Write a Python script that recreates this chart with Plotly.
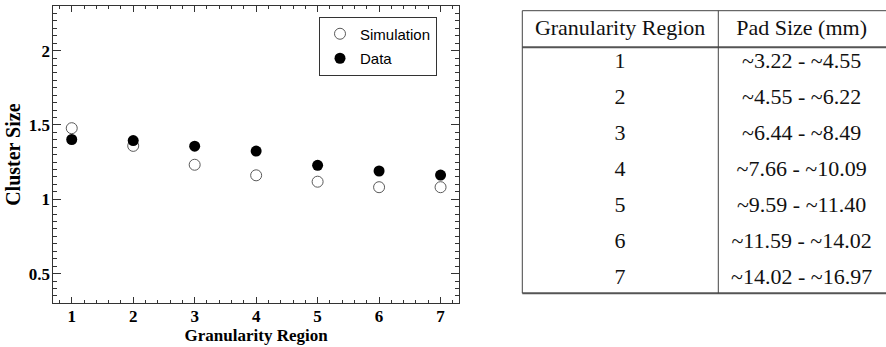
import plotly.graph_objects as go

# Cluster size per granularity region
regions = [1, 2, 3, 4, 5, 6, 7]
sim_cluster = [1.478, 1.359, 1.232, 1.161, 1.118, 1.081, 1.081]
data_cluster = [1.402, 1.395, 1.357, 1.324, 1.228, 1.190, 1.163]

# Pad size table
table_header = ["Granularity Region", "Pad Size (mm)"]
table_regions = ["1", "2", "3", "4", "5", "6", "7"]
table_pads = ["~3.22 - ~4.55", "~4.55 - ~6.22", "~6.44 - ~8.49", "~7.66 - ~10.09",
              "~9.59 - ~11.40", "~11.59 - ~14.02", "~14.02 - ~16.97"]

W, H = 886, 347
serif = "Liberation Serif"
sans = "Liberation Sans"
frame = "#333333"

def px_x(p):
    return p / W

def px_y(p):
    return 1 - p / H

fig = go.Figure()

fig.add_trace(go.Scatter(
    x=regions, y=sim_cluster, mode="markers", name="Simulation",
    legendgroup="sim",
    marker=dict(symbol="circle-open", size=11, color="#5a5a5a", line=dict(width=1)),
))
fig.add_trace(go.Scatter(
    x=regions, y=data_cluster, mode="markers", name="Data",
    legendgroup="data",
    marker=dict(symbol="circle", size=11, color="black"),
))

# Table of pad sizes
tx0, tx1 = 522.3, 886.0
rule_top, rule_hdr, rule_bot = 10.7, 47.3, 293.3
hdr_h = 32.6
row_h = 36.1
col_split = 718.3
table_bottom = rule_top + hdr_h + row_h * len(table_regions) + 2

fig.add_trace(go.Table(
    domain=dict(x=[px_x(tx0), 1.0], y=[px_y(table_bottom), px_y(rule_top)]),
    columnwidth=[col_split - tx0, tx1 - col_split],
    header=dict(values=table_header, height=hdr_h, align="center",
                fill_color="white", line=dict(color="white", width=0),
                font=dict(family=serif, size=22, color="#111111")),
    cells=dict(values=[table_regions, table_pads], height=row_h, align="center",
               fill_color="white", line=dict(color="white", width=0),
               font=dict(family=serif, size=22, color="#111111")),
))

# Table rules: top, under header, bottom, left edge and column divider
line_style = dict(color="#444444", width=1)
shapes = [
    dict(type="line", xref="paper", yref="paper", x0=px_x(tx0), x1=1.0,
         y0=px_y(rule_top), y1=px_y(rule_top), line=line_style),
    dict(type="line", xref="paper", yref="paper", x0=px_x(tx0), x1=1.0,
         y0=px_y(rule_hdr), y1=px_y(rule_hdr), line=dict(color="#555555", width=2)),
    dict(type="line", xref="paper", yref="paper", x0=px_x(tx0), x1=1.0,
         y0=px_y(rule_bot), y1=px_y(rule_bot), line=dict(color="#555555", width=2)),
    dict(type="line", xref="paper", yref="paper", x0=px_x(tx0), x1=px_x(tx0),
         y0=px_y(rule_top), y1=px_y(rule_bot), line=line_style),
    dict(type="line", xref="paper", yref="paper", x0=px_x(col_split), x1=px_x(col_split),
         y0=px_y(rule_top), y1=px_y(rule_bot), line=line_style),
]

tickfont = dict(family=serif, size=17, color="black", weight="bold")

fig.update_layout(
    width=W, height=H,
    margin=dict(l=0, r=0, t=0, b=0),
    paper_bgcolor="white", plot_bgcolor="white",
    shapes=shapes,
    showlegend=True,
    legend=dict(
        x=px_x(319), y=px_y(16.5), xanchor="left", yanchor="top",
        bordercolor=frame, borderwidth=1, bgcolor="white",
        font=dict(family=sans, size=15, color="black"),
        tracegroupgap=2, itemwidth=30,
    ),
    xaxis=dict(
        domain=[px_x(53.3), px_x(459)], range=[0.7, 7.3],
        tick0=0, dtick=1, ticks="inside", ticklen=6, tickcolor=frame,
        showline=True, linecolor=frame, linewidth=1, mirror="ticks",
        showgrid=False, zeroline=False, tickfont=tickfont,
        ticklabelstandoff=-3,
        minor=dict(dtick=0.2, ticks="inside", ticklen=3, tickcolor=frame, showgrid=False),
        title=dict(text="Granularity Region", standoff=0,
                   font=dict(family=serif, size=17, color="black", weight="bold")),
    ),
    yaxis=dict(
        domain=[px_y(303.3), px_y(6)], range=[0.3, 2.3],
        tick0=0, dtick=0.5, ticks="inside", ticklen=8, tickcolor=frame,
        showline=True, linecolor=frame, linewidth=1, mirror="ticks",
        showgrid=False, zeroline=False, tickfont=tickfont, ticklabelstandoff=-1,
        minor=dict(dtick=0.05, ticks="inside", ticklen=4, tickcolor=frame, showgrid=False),
        title=dict(text="Cluster Size", standoff=2,
                   font=dict(family=serif, size=20, color="black", weight="bold")),
    ),
)

fig.write_html("out.html")
